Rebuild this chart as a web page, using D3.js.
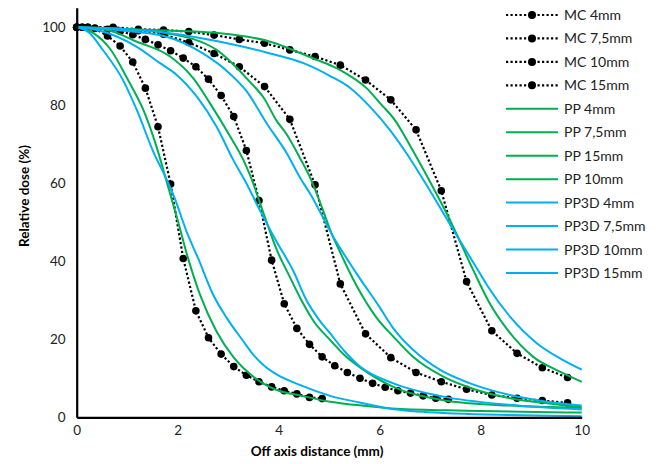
<!DOCTYPE html>
<html>
<head>
<meta charset="utf-8">
<script src="https://cdn.jsdelivr.net/npm/d3@7"></script>
<style>
  html, body { margin: 0; padding: 0; background: #fff; }
  svg { display: block; font-family: Lato, "Open Sans", sans-serif; }
</style>
</head>
<body>
<svg id="chart" width="664" height="464"></svg>
<script>
// ---- Monte Carlo profiles: off-axis distance (mm) and relative dose (%) ----
const mc4X  = [0, 0.11, 0.36, 0.61, 0.86, 1.11, 1.36, 1.61, 1.86, 2.11, 2.36, 2.61, 2.86, 3.11, 3.36, 3.61, 3.86, 4.11, 4.36, 4.61, 4.86];
const mc4Y  = [100, 100, 99.7, 97.8, 95.2, 91.1, 84.4, 74.5, 59.8, 40.7, 27.3, 20.4, 16.2, 13.0, 10.8, 9.1, 7.8, 6.8, 6.0, 5.1, 4.8];

const mc75X = [0, 0.11, 0.36, 0.61, 0.86, 1.11, 1.36, 1.61, 1.86, 2.11, 2.36, 2.61, 2.86, 3.11, 3.36, 3.61, 3.86, 4.11, 4.36, 4.61, 4.86, 5.11, 5.36, 5.61, 5.86, 6.11, 6.36, 6.61, 6.86, 7.11, 7.36];
const mc75Y = [100, 100, 99.8, 99.5, 99.0, 98.1, 96.9, 95.5, 94.0, 92.1, 89.9, 86.7, 82.5, 77.1, 68.4, 55.6, 40.3, 29.1, 22.8, 18.7, 15.5, 13.2, 11.5, 10.0, 8.7, 7.7, 6.8, 6.2, 5.5, 4.9, 4.6];

const mc10X = [0, 0.22, 0.72, 1.22, 1.72, 2.22, 2.72, 3.22, 3.72, 4.22, 4.72, 5.22, 5.72, 6.22, 6.72, 7.22, 7.72, 8.22, 8.72, 9.22, 9.72];
const mc10Y = [100, 100, 99.8, 99.1, 98.2, 96.1, 93.3, 89.9, 84.8, 76.4, 59.6, 34.2, 21.4, 15.3, 11.5, 9.1, 7.2, 5.7, 4.9, 4.3, 3.7];

const mc15X = [0, 0.22, 0.72, 1.22, 1.72, 2.22, 2.72, 3.22, 3.72, 4.22, 4.72, 5.22, 5.72, 6.22, 6.72, 7.22, 7.72, 8.22, 8.72, 9.22, 9.72];
const mc15Y = [100, 100, 100, 99.5, 99.3, 98.9, 98.0, 96.9, 95.9, 94.2, 92.5, 90.3, 86.5, 81.4, 73.7, 58.1, 34.8, 22.2, 16.4, 12.7, 10.2];

// ---- Pencil-beam (PP) profiles ----
const pp4X  = [0, 0.33, 0.66, 1.02, 1.32, 1.58, 1.78, 2.0, 2.2, 2.44, 2.77, 3.1, 3.5, 3.96, 4.42, 5.02, 5.74, 6.33, 7.7, 10];
const pp4Y  = [100, 98.5, 94.5, 86.4, 78.8, 69.4, 60.5, 50.5, 41, 31.5, 22, 15.5, 10.4, 7.0, 5.6, 4.0, 2.9, 2.2, 1.7, 1.2];

const pp75X = [0, 0.6, 1.19, 1.85, 2.31, 2.64, 3.04, 3.3, 3.45, 3.7, 3.96, 4.22, 4.45, 4.7, 5.02, 5.3, 5.61, 6.27, 7.26, 8.56, 10];
const pp75Y = [100, 99.3, 96.3, 92.5, 86.9, 80.5, 72, 66, 61.5, 52.3, 43, 36, 30, 24.5, 19.8, 16, 12.8, 7.8, 4.4, 3.0, 2.4];

const pp15X = [0, 1.5, 2.84, 3.83, 4.69, 5.07, 5.28, 5.74, 6.01, 6.3, 6.63, 6.93, 7.39, 7.85, 8.18, 8.51, 9.04, 9.57, 10];
const pp15Y = [100, 99.3, 98.5, 96.3, 92, 90, 88.6, 84.4, 80.5, 76.2, 69, 62, 50.6, 37.8, 29.2, 22.8, 15.5, 11.7, 9.1];

const pp10X = [0, 1.0, 1.78, 2.77, 3.43, 3.7, 3.96, 4.16, 4.42, 4.62, 4.88, 5.02, 5.21, 5.54, 5.94, 6.27, 6.66, 7.26, 7.92, 8.58, 9.31, 10];
const pp10Y = [100, 99.5, 98.5, 94.2, 86, 82, 76, 72.5, 66.5, 61.5, 53, 48, 42.5, 33.8, 25.5, 20.7, 15.5, 10.4, 7.0, 4.9, 3.6, 2.6];

// ---- PP3D profiles ----
const pp3d4X  = [0, 0.26, 0.5, 0.92, 1.19, 1.52, 1.78, 1.93, 2.18, 2.41, 2.7, 2.97, 3.3, 3.5, 3.69, 3.96, 4.42, 5.02, 5.6, 6.33, 7.5, 8.5, 10];
const pp3d4Y  = [100, 98.5, 94.5, 86.4, 78.8, 68, 61, 56.5, 47.5, 40.6, 31.5, 25.5, 19.5, 16, 13.5, 11.0, 8.3, 5.5, 3.8, 2.0, 1.0, 0.6, 0.3];

const pp3d75X = [0, 0.5, 1.19, 1.65, 1.98, 2.38, 2.77, 3.1, 3.4, 3.63, 3.96, 4.29, 4.55, 4.8, 5.02, 5.3, 5.61, 6.27, 7.26, 8.56, 10];
const pp3d75Y = [100, 99, 95, 90.8, 87.8, 82.2, 74.5, 66, 59, 53, 45, 37.5, 30, 25, 21.5, 17, 13, 8.7, 5.3, 3.2, 2.0];

const pp3d10X = [0, 0.8, 1.78, 2.5, 3.0, 3.37, 3.76, 4.16, 4.42, 4.62, 5.08, 5.54, 6.01, 6.27, 6.66, 7.19, 7.79, 8.58, 9.31, 10];
const pp3d10Y = [100, 99.3, 97.6, 93.3, 88.5, 83.5, 75.4, 67.7, 61.5, 57.4, 46.3, 36.9, 28, 22.8, 17.3, 12.2, 8.7, 5.7, 4.0, 3.0];

const pp3d15X = [0, 1.0, 1.85, 2.84, 3.83, 4.49, 5.02, 5.41, 5.81, 6.2, 6.53, 6.93, 7.46, 7.91, 8.12, 8.58, 9.11, 9.57, 10];
const pp3d15Y = [100, 99.5, 98.5, 96.3, 93.3, 90.8, 87.5, 84.5, 79.6, 73.7, 67.7, 59.5, 48, 38.5, 34, 25.8, 19, 15.1, 12.2];

// Axis ticks and titles
const xTicks = [0, 2, 4, 6, 8, 10];
const yTicks = [0, 20, 40, 60, 80, 100];
const xTitle = "Off axis distance (mm)";
const yTitle = "Relative dose (%)";

// Series in legend order
const seriesNames = ["MC 4mm", "MC 7,5mm", "MC 10mm", "MC 15mm",
                     "PP 4mm", "PP 7,5mm", "PP 15mm", "PP 10mm",
                     "PP3D 4mm", "PP3D 7,5mm", "PP3D 10mm", "PP3D 15mm"];
const seriesX = [mc4X, mc75X, mc10X, mc15X, pp4X, pp75X, pp15X, pp10X, pp3d4X, pp3d75X, pp3d10X, pp3d15X];
const seriesY = [mc4Y, mc75Y, mc10Y, mc15Y, pp4Y, pp75Y, pp15Y, pp10Y, pp3d4Y, pp3d75Y, pp3d10Y, pp3d15Y];
const seriesKind = ["mc", "mc", "mc", "mc", "pp", "pp", "pp", "pp", "pp3d", "pp3d", "pp3d", "pp3d"];

const colors = { mc: "#000000", pp: "#00B050", pp3d: "#00B0F0" };

const series = seriesNames.map((name, i) => ({
  name,
  kind: seriesKind[i],
  points: seriesX[i].map((xv, j) => ({ x: xv, y: seriesY[i][j] }))
}));

const svg = d3.select("#chart");

const x = d3.scaleLinear().domain([0, 10]).range([76.7, 581.7]);
const y = d3.scaleLinear().domain([0, 105]).range([417.3, 7.8]);

// Curves
const plot = svg.append("g");
const lineLinear = d3.line().x(d => x(d.x)).y(d => y(d.y));
const lineSmooth = d3.line().x(d => x(d.x)).y(d => y(d.y)).curve(d3.curveMonotoneX);

series.forEach(s => {
  const g = plot.append("g");
  if (s.kind === "mc") {
    g.append("path")
      .attr("d", lineLinear(s.points))
      .attr("fill", "none")
      .attr("stroke", colors.mc)
      .attr("stroke-width", 2.2)
      .attr("stroke-dasharray", "2.2,2.3");
    g.selectAll("circle").data(s.points).join("circle")
      .attr("cx", d => x(d.x))
      .attr("cy", d => y(d.y))
      .attr("r", 3.8)
      .attr("fill", colors.mc);
  } else {
    g.append("path")
      .attr("d", lineSmooth(s.points))
      .attr("fill", "none")
      .attr("stroke", colors[s.kind])
      .attr("stroke-width", 2);
  }
});

// Axes
const xAxis = svg.append("g")
  .attr("transform", `translate(0,${y(0)})`)
  .call(d3.axisBottom(x).tickValues(xTicks).tickSize(0).tickPadding(8).tickFormat(d3.format("d")));
const yAxis = svg.append("g")
  .attr("transform", `translate(${x(0)},0)`)
  .call(d3.axisLeft(y).tickValues(yTicks).tickSize(0).tickPadding(11).tickFormat(d3.format("d")));

[xAxis, yAxis].forEach(a => {
  a.select(".domain").attr("stroke", "#000").attr("stroke-width", 2.2);
  a.selectAll("text").attr("fill", "#222").style("font-size", "13.5px").style("font-family", "Lato, sans-serif");
});

// Axis titles
svg.append("text")
  .attr("x", 317).attr("y", 456)
  .attr("text-anchor", "middle")
  .style("font-size", "13.5px").style("font-weight", "bold")
  .attr("fill", "#000")
  .text(xTitle);

svg.append("text")
  .attr("transform", "translate(29,196) rotate(-90)")
  .attr("text-anchor", "middle")
  .style("font-size", "13.5px").style("font-weight", "bold")
  .attr("fill", "#000")
  .text(yTitle);

// Legend
const legend = svg.append("g");
const rows = legend.selectAll("g").data(series).join("g")
  .attr("transform", (d, i) => `translate(0,${15 + i * 23.45})`);

rows.each(function (d) {
  const r = d3.select(this);
  if (d.kind === "mc") {
    r.append("line").attr("x1", 506).attr("x2", 558).attr("y1", 0).attr("y2", 0)
      .attr("stroke", "#000").attr("stroke-width", 2.2).attr("stroke-dasharray", "2.2,2.3");
    r.append("circle").attr("cx", 532).attr("cy", 0).attr("r", 4).attr("fill", "#000");
  } else {
    r.append("line").attr("x1", 506).attr("x2", 558).attr("y1", 0).attr("y2", 0)
      .attr("stroke", colors[d.kind]).attr("stroke-width", 2);
  }
  r.append("text").attr("x", 564).attr("y", 0).attr("dy", "0.36em")
    .style("font-size", "14px").attr("fill", "#222").text(d.name);
});
</script>
</body>
</html>
